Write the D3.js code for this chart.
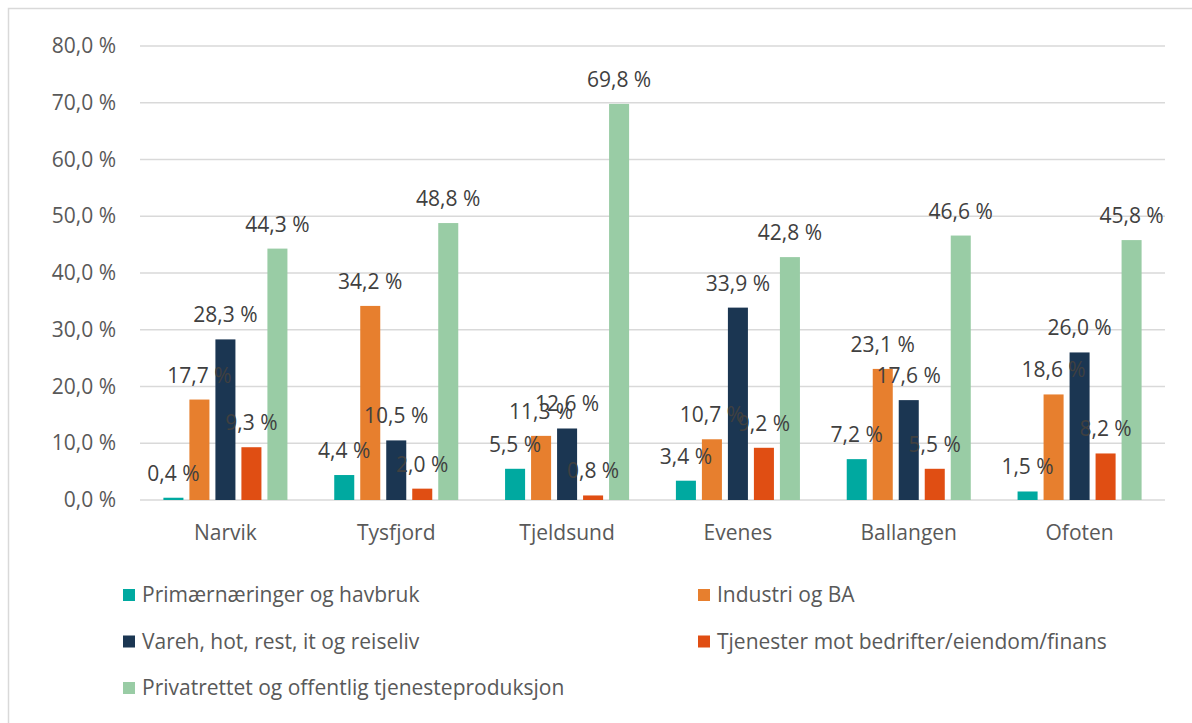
<!DOCTYPE html>
<html>
<head>
<meta charset="utf-8">
<script src="https://cdn.jsdelivr.net/npm/d3@7"></script>
<style>
  body { margin: 0; background: #fff; }
  text { font-family: "Open Sans", sans-serif; }
</style>
</head>
<body>
<div id="chart"></div>
<script>
// kommuner og næringer
const kommuner = ["Narvik", "Tysfjord", "Tjeldsund", "Evenes", "Ballangen", "Ofoten"];
const naeringer = [
    "Primærnæringer og havbruk",
    "Industri og BA",
    "Vareh, hot, rest, it og reiseliv",
    "Tjenester mot bedrifter/eiendom/finans",
    "Privatrettet og offentlig tjenesteproduksjon"
];
const farger = ["#00a9a0", "#e77f2e", "#1b3652", "#e04e13", "#99cca5"];

// andeler i prosent, en liste per næring (rekkefølge = kommuner)
const primaer = [0.4, 4.4, 5.5, 3.4, 7.2, 1.5];
const industri = [17.7, 34.2, 11.3, 10.7, 23.1, 18.6];
const vareh = [28.3, 10.5, 12.6, 33.9, 17.6, 26.0];
const tjenester = [9.3, 2.0, 0.8, 9.2, 5.5, 8.2];
const offentlig = [44.3, 48.8, 69.8, 42.8, 46.6, 45.8];
const serier = [primaer, industri, vareh, tjenester, offentlig];

const yTicks = [0, 10, 20, 30, 40, 50, 60, 70, 80];

const W = 1192, H = 723;
const margin = ({ top: 46, right: 27, bottom: 223, left: 140 });
const fs = 21;
const fmt = v => d3.format(".1f")(v).replace(".", ",") + " %";

const svg = d3.select("#chart").append("svg")
    .attr("width", W).attr("height", H);

// ramme
svg.append("path")
    .attr("d", "M8.5," + H + "V8.5H" + W)
    .attr("fill", "none").attr("stroke", "#d9d9d9").attr("stroke-width", 1.5);

const x0 = d3.scaleBand().domain(kommuner)
    .range([margin.left, W - margin.right]);
const x1 = d3.scaleBand().domain(d3.range(naeringer.length))
    .range([0, x0.bandwidth()]).paddingInner(0.23).paddingOuter(0.9);
const y = d3.scaleLinear().domain([0, 80])
    .range([H - margin.bottom, margin.top]);

// rutenett
svg.append("g").selectAll("line")
    .data(yTicks).enter().append("line")
    .attr("x1", margin.left).attr("x2", W - margin.right)
    .attr("y1", d => y(d)).attr("y2", d => y(d))
    .attr("stroke", "#d9d9d9").attr("stroke-width", 1.5);

// y-akse
const yAxis = svg.append("g")
    .attr("transform", "translate(" + (margin.left - 24) + ",0)")
    .call(d3.axisLeft(y).tickValues(yTicks).tickSize(0).tickPadding(0).tickFormat(fmt));
yAxis.select(".domain").remove();
yAxis.selectAll("text")
    .attr("font-size", fs).attr("fill", "#595959")
    .style("font-family", "'Open Sans', sans-serif");

// x-akse
const xAxis = svg.append("g")
    .attr("transform", "translate(0," + (H - margin.bottom + 25) + ")")
    .call(d3.axisBottom(x0).tickSize(0).tickPadding(0));
xAxis.select(".domain").remove();
xAxis.selectAll("text")
    .attr("font-size", fs).attr("fill", "#595959")
    .style("font-family", "'Open Sans', sans-serif");

// data per kommune
const celleData = (k, ki) => serier.map((s, si) => ({ si: si, v: s[ki] }));

// søyler
const grupper = svg.append("g").selectAll("g")
    .data(kommuner).enter().append("g")
    .attr("transform", d => "translate(" + x0(d) + ",0)");

grupper.selectAll("rect")
    .data(celleData)
    .enter().append("rect")
    .attr("x", d => x1(d.si))
    .attr("width", x1.bandwidth())
    .attr("y", d => y(d.v))
    .attr("height", d => y(0) - y(d.v))
    .attr("fill", d => farger[d.si]);

// etiketter over alle søyler
const etikettGrupper = svg.append("g").selectAll("g")
    .data(kommuner).enter().append("g")
    .attr("transform", d => "translate(" + x0(d) + ",0)");

etikettGrupper.selectAll("text")
    .data(celleData)
    .enter().append("text")
    .attr("x", d => x1(d.si) + x1.bandwidth() / 2)
    .attr("y", d => y(d.v) - 17)
    .attr("text-anchor", "middle")
    .attr("font-size", fs)
    .attr("fill", "#404040")
    .text(d => fmt(d.v));

// forklaring
const legend = svg.append("g").selectAll("g")
    .data(naeringer).enter().append("g")
    .attr("transform", (d, i) => "translate(" + (i % 2 === 0 ? 123 : 698) + "," + (595 + Math.floor(i / 2) * 46.5) + ")");
legend.append("rect")
    .attr("x", 0).attr("y", -6).attr("width", 12).attr("height", 12)
    .attr("fill", (d, i) => farger[i]);
legend.append("text")
    .attr("x", 19).attr("dy", "0.35em")
    .attr("font-size", fs).attr("fill", "#595959")
    .text(d => d);
</script>
</body>
</html>
